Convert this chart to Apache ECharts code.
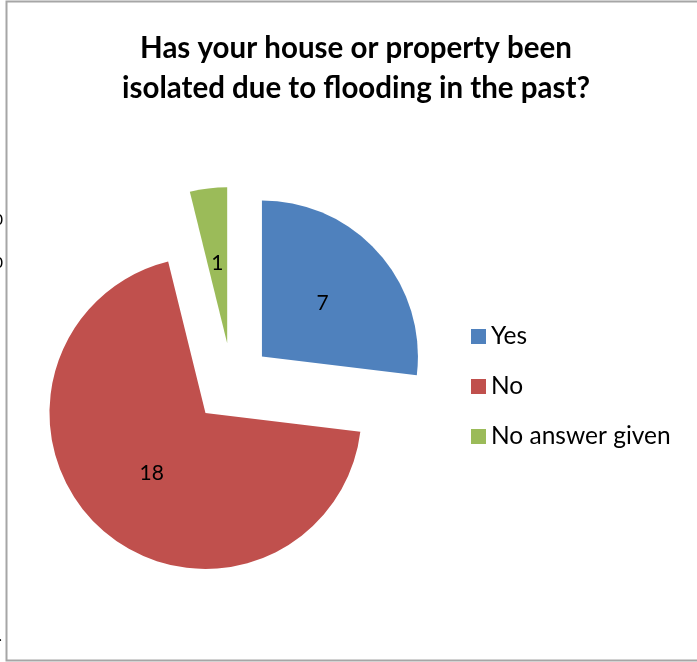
<!DOCTYPE html>
<html>
<head>
<meta charset="utf-8">
<script src="https://cdn.jsdelivr.net/npm/echarts@6/dist/echarts.min.js"></script>
<style>
  html, body { margin: 0; padding: 0; background: #fff; }
  #chart { width: 697px; height: 662px; }
</style>
</head>
<body>
<div id="chart"></div>
<script>
// Survey answers
const categories = ['Yes', 'No', 'No answer given'];
const counts = [7, 18, 1];
const colors = ['#4F81BD', '#C0504D', '#9BBB59'];
const titleLines = ['Has your house or property been', 'isolated due to flooding in the past?'];

const chart = echarts.init(document.getElementById('chart'));

const pieData = categories.map((name, i) => ({
  name: name,
  value: counts[i],
  selected: true,
  itemStyle: { color: colors[i] },
  select: { itemStyle: { color: colors[i] } }
}));

chart.setOption({
  animation: false,
  title: {
    text: titleLines.join('\n'),
    left: 351,
    top: 23,
    textAlign: 'center',
    textStyle: {
      fontFamily: 'Lato',
      fontWeight: 'bold',
      fontSize: 29.5,
      lineHeight: 40,
      color: '#000'
    }
  },
  legend: {
    orient: 'vertical',
    left: 466,
    top: 319,
    itemWidth: 15,
    itemHeight: 15,
    itemGap: 25,
    icon: 'rect',
    selectedMode: false,
    textStyle: { fontFamily: 'Lato', fontSize: 24.5, color: '#000' },
    data: categories
  },
  graphic: [
    {
      type: 'polyline',
      shape: { points: [[760, 1.5], [6.5, 1.5], [6.5, 660.5], [760, 660.5]] },
      style: { stroke: '#a6a6a6', lineWidth: 2, fill: null },
      silent: true
    },
    { type: 'text', x: 3, y: 220, style: { text: '0', fontSize: 16, fontFamily: 'Lato', fill: '#000', align: 'right', verticalAlign: 'middle' } },
    { type: 'text', x: 3, y: 263, style: { text: '0', fontSize: 16, fontFamily: 'Lato', fill: '#000', align: 'right', verticalAlign: 'middle' } },
    { type: 'text', x: 2, y: 636, style: { text: '.', fontSize: 16, fontFamily: 'Lato', fill: '#000', align: 'right', verticalAlign: 'middle' } }
  ],
  series: [{
    type: 'pie',
    center: [232, 383],
    radius: [0, 156],
    startAngle: 90,
    clockwise: true,
    selectedMode: 'multiple',
    selectedOffset: 40,
    avoidLabelOverlap: false,
    label: {
      show: true,
      position: 'inside',
      formatter: '{c}',
      fontFamily: 'Lato',
      fontSize: 21,
      padding: [7, 0, 0, 0],
      color: '#000'
    },
    labelLine: { show: false },
    emphasis: { scale: false },
    itemStyle: { borderWidth: 0 },
    data: pieData
  }]
});
</script>
</body>
</html>
